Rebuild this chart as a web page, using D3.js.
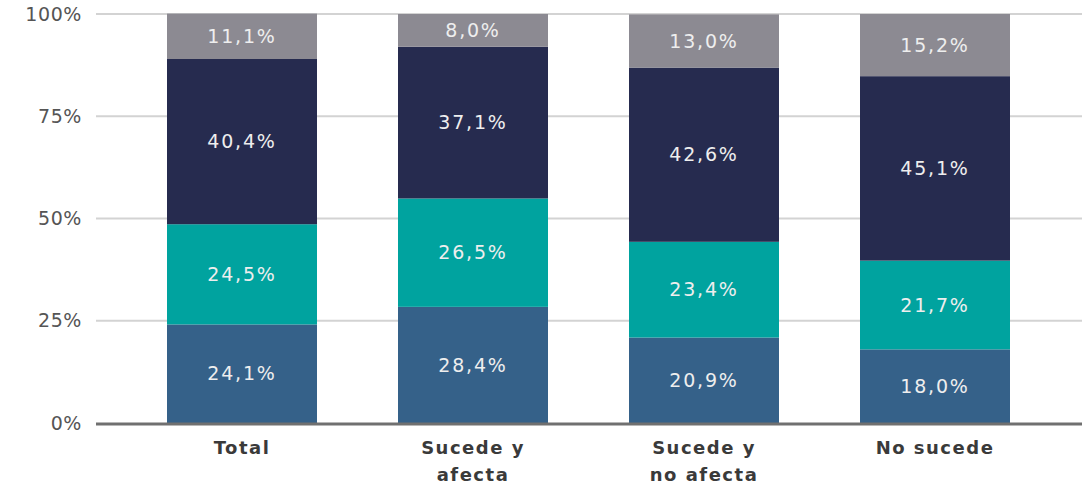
<!DOCTYPE html>
<html>
<head>
<meta charset="utf-8">
<script src="https://cdn.jsdelivr.net/npm/d3@7"></script>
<style>
  body { margin: 0; background: #fff; }
  svg { display: block; font-family: "DejaVu Sans", sans-serif; }
</style>
</head>
<body>
<svg id="chart"></svg>
<script>
const categories = [["Total"], ["Sucede y", "afecta"], ["Sucede y", "no afecta"], ["No sucede"]];
const seriesKeys = ["s1", "s2", "s3", "s4"];
const s1 = [24.1, 28.4, 20.9, 18.0];
const s2 = [24.5, 26.5, 23.4, 21.7];
const s3 = [40.4, 37.1, 42.6, 45.1];
const s4 = [11.1, 8.0, 13.0, 15.2];
const colors = ["#356189", "#00a39f", "#262b4f", "#8c8a92"];
const yTicks = [0, 25, 50, 75, 100];

const width = 1082, height = 486;
const margin = {top: 14, right: 0, bottom: 63, left: 96};

const data = categories.map((c, i) => ({
  key: c.join(" "), lines: c, s1: s1[i], s2: s2[i], s3: s3[i], s4: s4[i]
}));

const x = d3.scaleBand()
  .domain(data.map(d => d.key))
  .range([126.5, 1050.5])
  .paddingInner(81 / 231)
  .paddingOuter(0.5 * 81 / 231);

const y = d3.scaleLinear()
  .domain([0, 100])
  .range([height - margin.bottom, margin.top]);

const svg = d3.select("#chart")
  .attr("width", width)
  .attr("height", height);

// grid
svg.append("g")
  .selectAll("line")
  .data(yTicks.filter(t => t > 0))
  .join("line")
    .attr("x1", margin.left)
    .attr("x2", width - margin.right)
    .attr("y1", d => y(d))
    .attr("y2", d => y(d))
    .attr("stroke", "#d3d3d3")
    .attr("stroke-width", 2);

// y axis labels
const yAxis = g => g
  .attr("transform", `translate(${margin.left},0)`)
  .call(d3.axisLeft(y).tickValues(yTicks).tickFormat(d => d + "%").tickSize(0).tickPadding(14))
  .call(g => g.select(".domain").remove())
  .call(g => g.selectAll("text")
    .attr("font-size", 19)
    .attr("letter-spacing", 0.6)
    .attr("fill", "#555")
    .attr("font-family", "DejaVu Sans, sans-serif"));
svg.append("g").call(yAxis);

const stack = d3.stack().keys(seriesKeys)(data);

const layer = svg.append("g")
  .selectAll("g")
  .data(stack)
  .join("g")
    .attr("fill", (d, i) => colors[i]);

layer.selectAll("rect")
  .data(d => d)
  .join("rect")
    .attr("x", d => x(d.data.key))
    .attr("y", d => y(d[1]))
    .attr("height", d => y(d[0]) - y(d[1]))
    .attr("width", x.bandwidth());

layer.selectAll("text")
  .data(d => d.map(v => ({v, val: v[1] - v[0]})))
  .join("text")
    .attr("x", d => x(d.v.data.key) + x.bandwidth() / 2)
    .attr("y", d => y((d.v[0] + d.v[1]) / 2))
    .attr("dy", "0.35em")
    .attr("text-anchor", "middle")
    .attr("fill", "#eeeeee")
    .attr("font-size", 19)
    .attr("letter-spacing", 1.8)
    .text(d => d3.format(".1f")(d.val).replace(".", ",") + "%");

// x axis baseline
svg.append("line")
  .attr("x1", margin.left)
  .attr("x2", width - margin.right)
  .attr("y1", y(0) + 1)
  .attr("y2", y(0) + 1)
  .attr("stroke", "#707070")
  .attr("stroke-width", 3);

// category labels
const cat = svg.append("g")
  .selectAll("text")
  .data(data)
  .join("text")
    .attr("x", d => x(d.key) + x.bandwidth() / 2)
    .attr("y", y(0) + 31)
    .attr("text-anchor", "middle")
    .attr("font-size", 18)
    .attr("font-weight", "bold")
    .attr("letter-spacing", 1.5)
    .attr("fill", "#3a3a3a");

cat.selectAll("tspan")
  .data(d => d.lines)
  .join("tspan")
    .attr("x", function() { return this.parentNode.getAttribute("x"); })
    .attr("dy", (d, i) => i === 0 ? 0 : 27)
    .text(d => d);
</script>
</body>
</html>
